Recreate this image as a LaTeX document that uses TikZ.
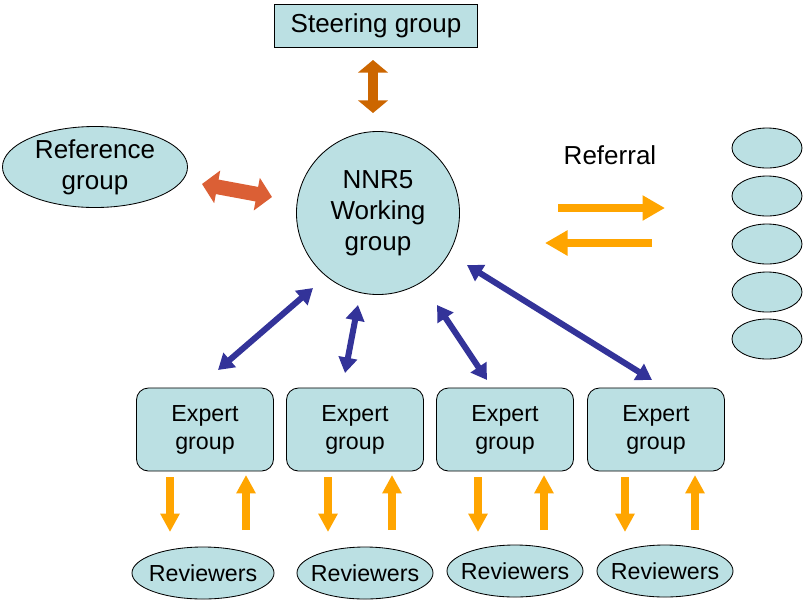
\documentclass[tikz,border=0pt]{standalone}
\usepackage{fontspec}
\setmainfont{Liberation Sans}
\usepackage{tikz}
\usepackage{xcolor}
\usetikzlibrary{arrows.meta,positioning,shapes.geometric}
\definecolor{PaleCyan}{HTML}{BBE0E3}
\definecolor{RustBrown}{HTML}{CC6600}
\definecolor{BrickRed}{HTML}{DB5F35}
\definecolor{Amber}{HTML}{FFA500}
\definecolor{Indigo}{HTML}{333399}
\tikzset{
  sqbox/.style={draw=black, fill=PaleCyan, line width=0.6pt, align=center, inner sep=0pt},
  roundbox/.style={rounded corners=8.5pt, draw=black, fill=PaleCyan, line width=0.6pt, align=center, inner sep=0pt, minimum width=3.425cm, minimum height=2.075cm, font=\fontsize{16.5}{20}\selectfont},
  oval/.style={ellipse, draw=black, fill=PaleCyan, line width=0.6pt, align=center, inner sep=0pt},
  brownarrow/.style={{Triangle[width=21pt,length=9pt]}-{Triangle[width=21pt,length=9pt]}, line width=7.5pt, draw=RustBrown},
  redarrow/.style={{Triangle[width=23pt,length=11pt]}-{Triangle[width=23pt,length=11pt]}, line width=10.5pt, draw=BrickRed},
  referarrow/.style={-{Triangle[width=17pt,length=16pt]}, line width=5.7pt, draw=Amber},
  reviewarrow/.style={-{Triangle[width=13pt,length=13pt]}, line width=5pt, draw=Amber},
  bluearrow/.style={{Triangle[width=13pt,length=11pt]}-{Triangle[width=13pt,length=11pt]}, line width=4.3pt, draw=Indigo}
}
\begin{document}
\begin{tikzpicture}[x=0.025cm, y=-0.025cm, every node/.style={font=\fontsize{18.5}{22}\selectfont}]
\useasboundingbox (0,0) rectangle (804,601);
% top and centre
\node[sqbox, minimum width=5.075cm, minimum height=1.075cm] (steer) at (376,25.5) {Steering group};
\node[oval, minimum width=4.625cm, minimum height=2.025cm] (refgrp) at (95,167) {Reference\\group};
\node[circle, draw=black, fill=PaleCyan, line width=0.6pt, align=center, inner sep=0pt, minimum size=4.075cm] (nnr) at (378,213) {NNR5\\Working\\group};
\node (referral) at (610,155) {Referral};
% outside bodies
\foreach \i/\y in {1/148,2/196,3/244,4/292,5/339}
  \node[oval, minimum width=1.75cm, minimum height=1cm] (body\i) at (767,\y) {};
% expert groups and reviewers
\foreach \i/\x/\rx/\ry/\rw in {1/205/203/573/3.55,2/355/365/573/3.4,3/505/515/571/3.4,4/656/665/571/3.4} {
  \node[roundbox] (exp\i) at (\x,429.5) {Expert\\group};
  \node[oval, inner xsep=-6pt, minimum width=\rw cm, minimum height=1.3cm, font=\fontsize{16.5}{20}\selectfont] (rev\i) at (\rx,\ry) {Reviewers};
}
% arrow ends
\coordinate (steer-a) at (373,60);
\coordinate (steer-b) at (373,113);
\coordinate (ref-a) at (202,184);
\coordinate (ref-b) at (272,197);
\coordinate (out-a) at (558,208);
\coordinate (out-b) at (665,208);
\coordinate (in-a) at (652,243);
\coordinate (in-b) at (545,243);
\coordinate (e1-a) at (313,288);
\coordinate (e1-b) at (218,370);
\coordinate (e2-a) at (358,305);
\coordinate (e2-b) at (345,373);
\coordinate (e3-a) at (437,305);
\coordinate (e3-b) at (487,380);
\coordinate (e4-a) at (467,265);
\coordinate (e4-b) at (652,380);
\draw[brownarrow] (steer-a) -- (steer-b);
\draw[redarrow] (ref-a) -- (ref-b);
\draw[referarrow] (out-a) -- (out-b);
\draw[referarrow] (in-a) -- (in-b);
\foreach \i in {1,...,4}
  \draw[bluearrow] (e\i-a) -- (e\i-b);
\foreach \i/\dx/\ux in {1/170/246,2/328/392,3/478/544,4/625/695} {
  \coordinate (dn\i-a) at (\dx,477);
  \coordinate (dn\i-b) at (\dx,532);
  \coordinate (up\i-a) at (\ux,530);
  \coordinate (up\i-b) at (\ux,475);
  \draw[reviewarrow] (dn\i-a) -- (dn\i-b);
  \draw[reviewarrow] (up\i-a) -- (up\i-b);
}
\end{tikzpicture}
\end{document}
